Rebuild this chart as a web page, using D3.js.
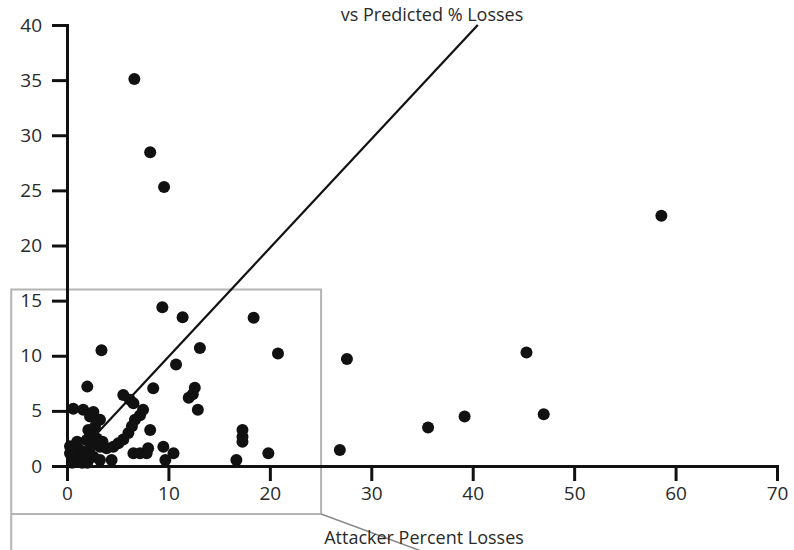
<!DOCTYPE html>
<html>
<head>
<meta charset="utf-8">
<script src="https://cdn.jsdelivr.net/npm/d3@7"></script>
<style>
  html, body { margin: 0; padding: 0; background: #fff; }
  svg { display: block; }
  text { font-family: "Open Sans", "DejaVu Sans", sans-serif; fill: #2a2a2a; }
</style>
</head>
<body>
<svg id="chart" width="794" height="550"></svg>
<script>
// ---- data ----
const titleText = "vs Predicted % Losses";
const xLabelText = "Attacker Percent Losses";
const xTicks = [0, 10, 20, 30, 40, 50, 60, 70];
const yTicks = [0, 5, 10, 15, 20, 25, 30, 35, 40];

// attacker percent losses (x) and observed value (y)
const pointsX = [
  58.6, 27.6, 26.9, 35.6, 39.2, 45.3, 47.0,
  6.64, 8.2, 9.57, 9.4, 11.4, 18.4, 13.1, 20.8, 10.75, 8.5, 3.4, 2.0,
  12.6, 12.4, 12.0, 12.9,
  8.2, 17.3, 17.3, 17.3, 16.7, 19.85, 9.5, 10.5, 9.7,
  6.55, 7.2, 7.85, 8.0,
  5.55, 6.2, 6.55, 7.5, 7.2, 6.7, 6.4, 6.05, 5.55, 5.06, 4.57, 4.4,
  0.62, 1.6, 2.6, 2.27, 3.25, 2.76, 2.1, 2.43, 2.93, 1.94, 2.6, 3.25, 3.9,
  0.62, 1.28, 0.3, 0.96, 1.94, 2.6, 3.25, 0.8, 1.3,
  0.3, 0.5, 1.5, 2.2, 1.0, 3.5, 2.0, 1.7, 0.4
];
const pointsY = [
  22.7, 9.7, 1.45, 3.5, 4.5, 10.3, 4.7,
  35.1, 28.45, 25.3, 14.4, 13.5, 13.45, 10.7, 10.2, 9.2, 7.05, 10.5, 7.2,
  7.1, 6.5, 6.2, 5.1,
  3.27, 3.27, 2.66, 2.2, 0.55, 1.15, 1.75, 1.15, 0.55,
  1.15, 1.15, 1.15, 1.6,
  6.45, 6.0, 5.7, 5.1, 4.6, 4.2, 3.6, 3.0, 2.4, 2.06, 1.75, 0.55,
  5.2, 5.1, 4.9, 4.5, 4.2, 3.57, 3.27, 2.8, 2.5, 2.36, 2.06, 1.75, 1.6,
  1.75, 1.45, 1.15, 1.0, 1.15, 0.84, 0.55, 0.55, 0.55,
  1.8, 0.3, 0.3, 1.5, 2.2, 2.2, 0.3, 0.9, 1.3
];

// reference line (equal actual vs predicted)
const refLineX = [3, 40.5];
const refLineY = [3, 40];

// highlighted zoom box (data units)
const boxX = [-5.5, 25.05];
const boxY = [-4.35, 16.0];

// ---- drawing ----
const svg = d3.select("#chart");
const x = d3.scaleLinear().domain([0, 70]).range([67, 777]);
const y = d3.scaleLinear().domain([0, 40]).range([466, 25]);

// gray zoom box
const boxG = svg.append("g").attr("fill", "none").attr("stroke", "#b4b4b4").attr("stroke-width", 2);
boxG.append("path")
  .attr("d", `M${x(boxX[0])},560 V${y(boxY[1])} H${x(boxX[1])} V${y(boxY[0])} H${x(boxX[0])}`);
boxG.append("line")
  .attr("x1", x(boxX[1])).attr("y1", y(boxY[0]))
  .attr("x2", x(boxX[1]) + 100).attr("y2", y(boxY[0]) + 37)
  .attr("stroke", "#8a8a8a").attr("stroke-width", 1.5);

// axes
const xAxis = d3.axisBottom(x).tickValues(xTicks).tickSize(15).tickPadding(6).tickFormat(d3.format("d"));
const yAxis = d3.axisLeft(y).tickValues(yTicks).tickSize(15).tickPadding(10).tickFormat(d3.format("d"));

const gx = svg.append("g").attr("transform", `translate(0,${y(0)})`).call(xAxis);
const gy = svg.append("g").attr("transform", `translate(${x(0)},0)`).call(yAxis);

[gx, gy].forEach(g => {
  g.select(".domain").attr("stroke", "#111").attr("stroke-width", 3);
  g.selectAll(".tick line").attr("stroke", "#111").attr("stroke-width", 3);
  g.selectAll(".tick text").attr("font-size", 19).attr("fill", "#2a2a2a")
    .attr("font-family", "'Open Sans', sans-serif");
});

// reference line
svg.append("line")
  .attr("x1", x(refLineX[0])).attr("y1", y(refLineY[0]))
  .attr("x2", x(refLineX[1])).attr("y2", y(refLineY[1]))
  .attr("stroke", "#111").attr("stroke-width", 2.2);

// points
svg.append("g").selectAll("circle")
  .data(pointsX.map((v, i) => [v, pointsY[i]]))
  .join("circle")
  .attr("cx", d => x(d[0]))
  .attr("cy", d => y(d[1]))
  .attr("r", 6)
  .attr("fill", "#111");

// title
svg.append("text")
  .attr("x", 432).attr("y", 21)
  .attr("text-anchor", "middle")
  .attr("font-size", 18)
  .text(titleText);

// x axis label
svg.append("text")
  .attr("x", 424).attr("y", 544)
  .attr("text-anchor", "middle")
  .attr("font-size", 18)
  .text(xLabelText);
</script>
</body>
</html>
